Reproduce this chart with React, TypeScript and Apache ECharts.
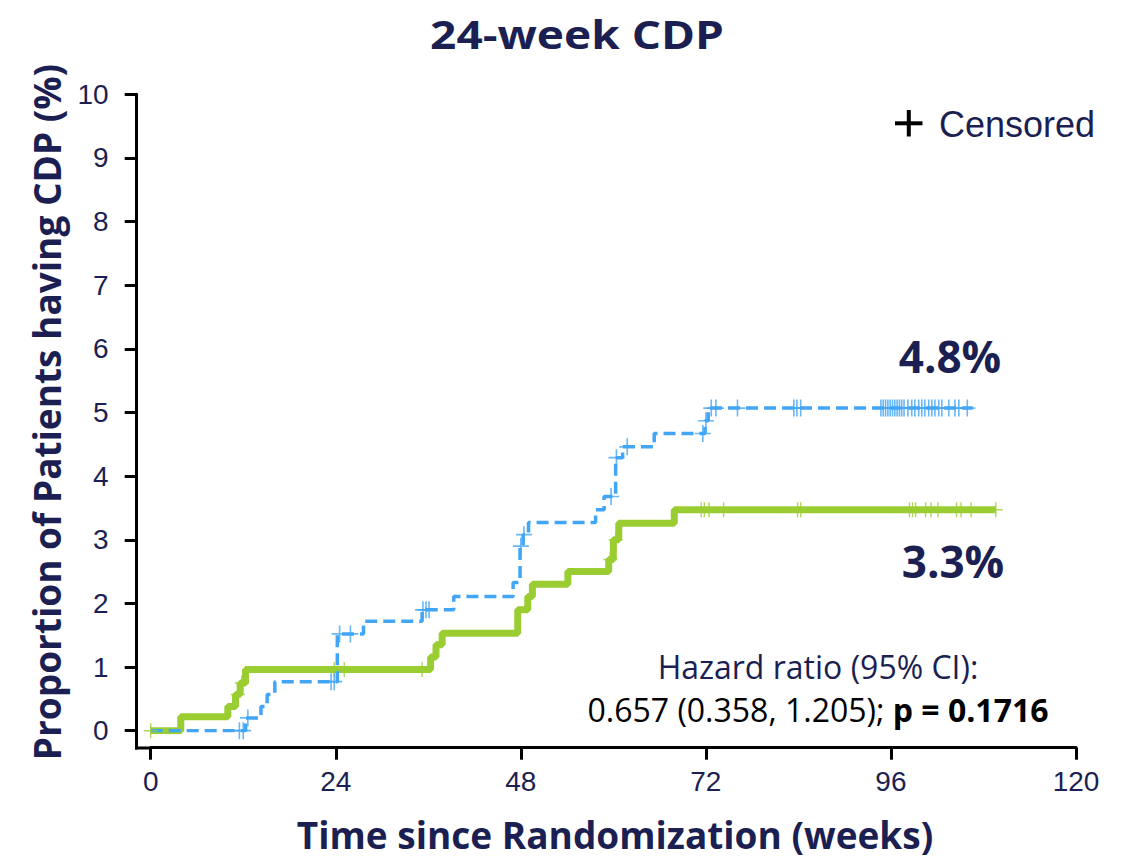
import React, { useEffect, useRef } from "react";
import * as echarts from "echarts";

// ---------- data ----------
const xTicks = [0, 24, 48, 72, 96, 120];
const yTicks = [0, 1, 2, 3, 4, 5, 6, 7, 8, 9, 10];

// Blue dashed arm: event weeks and cumulative proportion (%) after each step
const blueWeeks = [0, 12.3, 14.3, 15.1, 16.1, 24.2, 27.6, 35.2, 39.3, 47.0, 47.9, 48.3, 49.0, 57.7, 58.8, 60.3, 61.2, 65.3, 71.9, 72.3, 106.6];
const bluePct = [0, 0.2, 0.38, 0.57, 0.77, 1.52, 1.72, 1.9, 2.11, 2.33, 2.9, 3.08, 3.27, 3.47, 3.68, 4.29, 4.46, 4.67, 4.87, 5.07, 5.07];
const blueCensorWeeks = [11.5, 12.0, 12.6, 23.4, 23.8, 24.5, 25.9, 35.3, 35.7, 36.1, 48.0, 48.4, 59.7, 60.4, 61.8, 71.6, 72.0, 72.7, 73.3, 76.1, 83.4, 83.8, 84.3, 94.7, 95.0, 95.3, 95.6, 95.9, 96.2, 96.5, 96.8, 97.1, 97.4, 97.7, 98.2, 98.7, 99.1, 99.6, 100.0, 100.4, 100.9, 101.3, 101.7, 102.2, 102.6, 103.5, 104.3, 104.8, 105.9];

// Green solid arm
const greenWeeks = [0, 3.9, 10.0, 11.0, 11.6, 12.3, 36.3, 37.0, 37.8, 47.6, 48.9, 49.5, 54.1, 59.4, 60.0, 60.7, 67.9, 109.6];
const greenPct = [0, 0.22, 0.38, 0.57, 0.75, 0.96, 1.16, 1.35, 1.53, 1.9, 2.11, 2.3, 2.5, 2.69, 3.0, 3.26, 3.47, 3.47];
const greenCensorWeeks = [0, 11.3, 11.8, 23.8, 25.1, 35.2, 59.6, 60.3, 71.4, 71.8, 72.4, 74.3, 83.9, 84.3, 98.4, 98.8, 99.2, 100.5, 101.2, 102.1, 104.5, 105.1, 106.4, 109.6];

const titleText = "24-week CDP";
const yName = "Proportion of Patients having CDP (%)";
const xName = "Time since Randomization (weeks)";
const blueLabel = "4.8%";
const greenLabel = "3.3%";
const hrLine1 = "Hazard ratio (95% CI):";
const hrLine2a = "0.657 (0.358, 1.205); ";
const hrLine2b = "p = 0.1716";
const legendText = "Censored";

// ---------- helpers ----------
const pairs = (xs: number[], ys: number[]) => xs.map((x, i) => [x, ys[i]]);
const stepValue = (xs: number[], ys: number[], t: number) => {
  let v = ys[0];
  for (let i = 0; i < xs.length; i++) if (xs[i] <= t) v = ys[i];
  return v;
};
const censorPoints = (cw: number[], xs: number[], ys: number[]) => cw.map((t) => [t, stepValue(xs, ys, t)]);

const NAVY = "#1c1f52";
const BLUE = "#42a5f5";
const GREEN = "#9acd32";
const CROSS = "path://M-1,-10h2v9h9v2h-9v9h-2v-9h-9v-2h9z";
const TICK_FONT = '"Liberation Sans", Arial, sans-serif';
const CAL_FONT = '"Open Sans", sans-serif';

export default function App() {
  const ref = useRef<HTMLDivElement>(null);
  useEffect(() => {
    if (!ref.current) return;
    const chart = echarts.init(ref.current, undefined, { renderer: "svg" });
    const gridLeft = 150.7, gridTop = 94.3, gridRight = 54, gridBottom = 127.3;
    chart.setOption({
      animation: false,
      backgroundColor: "#ffffff",
      grid: { left: gridLeft, top: gridTop, right: gridRight, bottom: gridBottom, containLabel: false },
      xAxis: {
        type: "value",
        min: xTicks[0],
        max: xTicks[xTicks.length - 1],
        interval: 24,
        offset: 17,
        splitLine: { show: false },
        axisLine: { show: true, onZero: false, lineStyle: { color: "#000", width: 3 } },
        axisTick: { show: true, length: 12, lineStyle: { color: "#000", width: 3 } },
        axisLabel: { fontSize: 28, color: NAVY, fontFamily: TICK_FONT, margin: 20 },
      },
      yAxis: {
        type: "value",
        min: yTicks[0],
        max: yTicks[yTicks.length - 1],
        interval: 1,
        offset: 14,
        splitLine: { show: false },
        axisLine: { show: true, onZero: false, lineStyle: { color: "#000", width: 3 } },
        axisTick: { show: true, length: 12, lineStyle: { color: "#000", width: 3 } },
        axisLabel: { fontSize: 28, color: NAVY, fontFamily: TICK_FONT, margin: 28 },
      },
      series: [
        {
          type: "line",
          name: "green",
          step: "end",
          data: pairs(greenWeeks, greenPct),
          showSymbol: false,
          symbol: "none",
          lineStyle: { color: GREEN, width: 7 },
          z: 2,
        },
        {
          type: "line",
          name: "blue",
          step: "end",
          data: pairs(blueWeeks, bluePct),
          showSymbol: false,
          symbol: "none",
          lineStyle: { color: BLUE, width: 3.5, type: [12, 6] },
          z: 3,
        },
        {
          type: "scatter",
          name: "green censored",
          data: censorPoints(greenCensorWeeks, greenWeeks, greenPct),
          symbol: CROSS,
          symbolSize: [14, 15],
          itemStyle: { color: GREEN },
          z: 4,
        },
        {
          type: "scatter",
          name: "blue censored",
          data: censorPoints(blueCensorWeeks, blueWeeks, bluePct),
          symbol: CROSS,
          symbolSize: [16, 17],
          itemStyle: { color: BLUE },
          z: 5,
        },
      ],
      graphic: [
        // corner joining the offset axes
        { type: "line", shape: { x1: 136.5, y1: 728, x2: 136.5, y2: 749.5 }, style: { stroke: "#000", lineWidth: 3 } },
        { type: "line", shape: { x1: 135, y1: 748, x2: 152, y2: 748 }, style: { stroke: "#000", lineWidth: 3 } },
        {
          type: "text",
          x: 577,
          y: 34,
          scaleX: 1.15,
          style: { text: titleText, font: `bold 40px ${CAL_FONT}`, fill: NAVY, align: "center", verticalAlign: "middle" },
        },
        {
          type: "text",
          x: 46,
          y: 412,
          rotation: Math.PI / 2,
          style: { text: yName, font: `bold 37px ${CAL_FONT}`, fill: NAVY, align: "center", verticalAlign: "middle" },
        },
        {
          type: "text",
          x: 615,
          y: 834,
          style: { text: xName, font: `bold 37px ${CAL_FONT}`, fill: NAVY, align: "center", verticalAlign: "middle" },
        },
        // legend
        { type: "line", shape: { x1: 895, y1: 123.3, x2: 922.5, y2: 123.3 }, style: { stroke: "#000", lineWidth: 4 } },
        { type: "line", shape: { x1: 908.8, y1: 110, x2: 908.8, y2: 136.5 }, style: { stroke: "#000", lineWidth: 4 } },
        {
          type: "text",
          x: 939,
          y: 124,
          style: { text: legendText, font: `36px ${TICK_FONT}`, fill: NAVY, align: "left", verticalAlign: "middle" },
        },
        {
          type: "text",
          x: 950,
          y: 356,
          style: { text: blueLabel, font: `bold 44px ${CAL_FONT}`, fill: NAVY, align: "center", verticalAlign: "middle" },
        },
        {
          type: "text",
          x: 953,
          y: 561,
          style: { text: greenLabel, font: `bold 44px ${CAL_FONT}`, fill: NAVY, align: "center", verticalAlign: "middle" },
        },
        {
          type: "text",
          x: 818,
          y: 666,
          style: { text: hrLine1, font: `32px ${CAL_FONT}`, fill: NAVY, align: "center", verticalAlign: "middle" },
        },
        {
          type: "text",
          x: 818,
          y: 709,
          style: {
            text: `{a|${hrLine2a}}{b|${hrLine2b}}`,
            align: "center",
            verticalAlign: "middle",
            rich: {
              a: { fontSize: 32, fontFamily: CAL_FONT, color: NAVY },
              b: { fontSize: 32, fontFamily: CAL_FONT, fontWeight: "bold", color: NAVY },
            },
          },
        },
      ],
    });
    return () => chart.dispose();
  }, []);
  return <div ref={ref} style={{ position: "absolute", left: 0, top: 0, width: 1130, height: 858 }} />;
}
